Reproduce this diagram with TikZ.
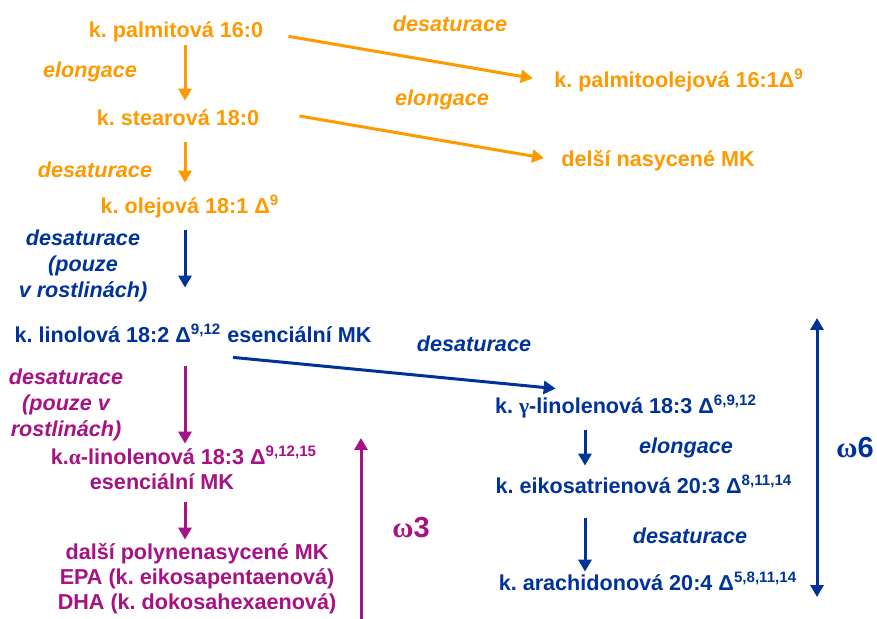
\documentclass[tikz,border=0pt]{standalone}
\usepackage{fontspec}
\setmainfont{Liberation Sans}
\newfontfamily\grk{Liberation Serif}
\usepackage{tikz}
\usetikzlibrary{arrows.meta}
\definecolor{og}{HTML}{FF9900}
\definecolor{db}{HTML}{003399}
\definecolor{mg}{HTML}{A61283}
\tikzstyle{lbl} = [inner sep=0pt, font=\fontsize{10.8}{12.8}\selectfont\bfseries, text height=8pt, text depth=2.5pt]
\tikzstyle{act} = [inner sep=0pt, align=center, font=\fontsize{10.8}{12.8}\selectfont\bfseries\itshape]
\tikzstyle{omega} = [inner sep=0pt, font=\fontsize{14.5}{16}\selectfont\bfseries]
\tikzstyle{arr} = [line width=1.5pt, -{Triangle[width=6.5pt,length=6pt]}]
\tikzstyle{darr} = [line width=1.5pt, {Triangle[width=6.5pt,length=6pt]}-{Triangle[width=6.5pt,length=6pt]}]
\newcommand{\Dsup}[1]{Δ\textsuperscript{#1}}
\frenchspacing

\begin{document}
\begin{tikzpicture}[x=0.5pt,y=-0.5pt]
			\useasboundingbox (0,0) rectangle (877,619);
			\coordinate (ax) at (185,0);
			\coordinate (bx) at (585,0);
			% kyseliny
			\node[lbl,og] (palm) at (176,32) {k. palmitová 16:0};
			\node[lbl,og] (palmol) at (679,82) {k. palmitoolejová 16:1\Dsup{9}};
			\node[lbl,og] (stear) at (178,120) {k. stearová 18:0};
			\node[lbl,og] (nasyc) at (658,161) {delší nasycené MK};
			\node[lbl,og] (olej) at (190,208) {k. olejová 18:1 \Dsup{9}};
			\node[lbl,db] (linol) at (193,337) {k. linolová 18:2 \Dsup{9,12} esenciální MK};
			\node[lbl,db] (gam) at (626,408) {k. {\grk γ}-linolenová 18:3 \Dsup{6,9,12}};
			\node[lbl,db] (eiko) at (644,488) {k. eikosatrienová 20:3 \Dsup{8,11,14}};
			\node[lbl,db] (arach) at (648,585) {k. arachidonová 20:4 \Dsup{5,8,11,14}};
			\node[lbl,mg] (alin) at (184,459) {k.{\grk α}-linolenová 18:3 \Dsup{9,12,15}};
			\node[lbl,mg] (alinb) at (162,484) {esenciální MK};
			\node[lbl,mg] (dalsi) at (197,554) {další polynenasycené MK};
			\node[lbl,mg] (epa) at (197,579) {EPA (k. eikosapentaenová)};
			\node[lbl,mg] (dha) at (197,604) {DHA (k. dokosahexaenová)};
			% reakce
			\node[act,og] (des1) at (450,24) {desaturace};
			\node[act,og] (elo1) at (90,72) {elongace};
			\node[act,og] (elo2) at (442,100) {elongace};
			\node[act,og] (des2) at (95,170) {desaturace};
			\node[act,db] (des3) at (83,266) {desaturace\\(pouze\\v rostlinách)};
			\node[act,db] (des4) at (474,344) {desaturace};
			\node[act,db] (elo3) at (686,448) {elongace};
			\node[act,db] (des5) at (690,536) {desaturace};
			\node[act,mg] (des6) at (66,405) {desaturace\\(pouze v\\rostlinách)};
			\node[omega,mg] (om3) at (411,528) {{\grk ω}3};
			\node[omega,db] (om6) at (855,448) {{\grk ω}6};
			% sipky
			\draw[arr,og,shorten <=12.7pt,shorten >=10.7pt] (palm.east) -- (palmol.west);
			\draw[arr,og,shorten <=20.3pt,shorten >=8.6pt] (stear.north east) -- (nasyc.west);
			\draw[arr,og,shorten <=1.25pt,shorten >=4.25pt] (palm.south -| ax) -- (stear.north -| ax);
			\draw[arr,og,shorten <=5.75pt,shorten >=7.25pt] (stear.south -| ax) -- (olej.north -| ax);
			\draw[arr,db,shorten <=5.75pt,shorten >=19.25pt] (olej.south -| ax) -- (linol.north -| ax);
			\draw[arr,db] ([xshift=20pt,yshift=-4.75pt]linol.south) -- ([xshift=30.5pt,yshift=4.25pt]gam.north west);
			\draw[arr,db,shorten <=5.75pt,shorten >=5.75pt] (gam.south -| bx) -- (eiko.north -| bx);
			\draw[arr,db,shorten <=9.75pt,shorten >=1.25pt] (eiko.south -| bx) -- (arach.north -| bx);
			\draw[arr,mg,shorten <=9.25pt,shorten >=2.25pt] (linol.south -| ax) -- (alin.north -| ax);
			\draw[arr,mg,shorten <=3.75pt,shorten >=1.75pt] (alinb.south -| ax) -- (dalsi.north -| ax);
			% omega
			\coordinate (w3a) at (361,619);
			\coordinate (w3b) at (361,438);
			\coordinate (w6a) at (817,318);
			\coordinate (w6b) at (817,597);
			\draw[arr,mg] (w3a) -- (w3b);
			\draw[darr,db] (w6a) -- (w6b);
		\end{tikzpicture}
\end{document}
